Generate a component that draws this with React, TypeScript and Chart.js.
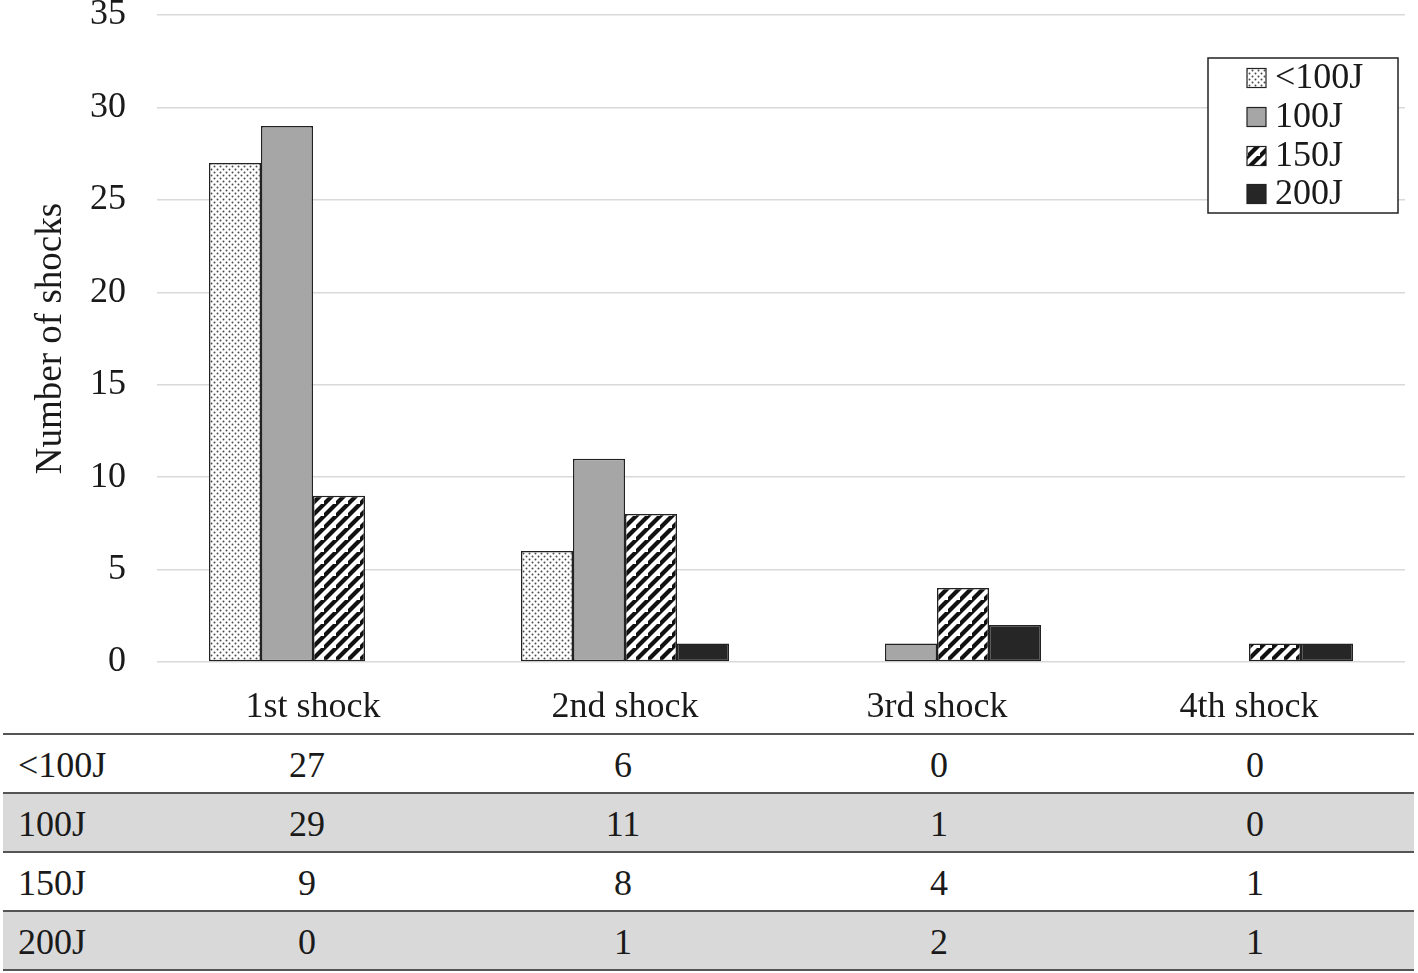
import React, { useEffect, useRef } from "react";
import { Chart, registerables } from "chart.js";

Chart.register(...registerables);

const categories = ["1st shock", "2nd shock", "3rd shock", "4th shock"];
const seriesNames = ["<100J", "100J", "150J", "200J"];
const below100J = [27, 6, 0, 0];
const j100 = [29, 11, 1, 0];
const j150 = [9, 8, 4, 1];
const j200 = [0, 1, 2, 1];
const seriesValues = [below100J, j100, j150, j200];
const yTicks = [0, 5, 10, 15, 20, 25, 30, 35];

const FONT = "'Liberation Serif', 'Times New Roman', serif";
const TEXT = "#1a1a1a";

function makeDotPattern(): CanvasPattern | string {
  const c = document.createElement("canvas");
  c.width = 6;
  c.height = 6;
  const g = c.getContext("2d");
  if (!g) return "#ddd";
  g.fillStyle = "#ffffff";
  g.fillRect(0, 0, 6, 6);
  g.fillStyle = "#4a4a4a";
  g.beginPath();
  g.arc(1.5, 1.5, 1.0, 0, Math.PI * 2);
  g.fill();
  g.beginPath();
  g.arc(4.5, 4.5, 1.0, 0, Math.PI * 2);
  g.fill();
  const p = g.createPattern(c, "repeat");
  return p || "#ddd";
}

function makeHatchPattern(): CanvasPattern | string {
  const s = 12;
  const c = document.createElement("canvas");
  c.width = s;
  c.height = s;
  const g = c.getContext("2d");
  if (!g) return "#888";
  g.fillStyle = "#ffffff";
  g.fillRect(0, 0, s, s);
  g.strokeStyle = "#111111";
  g.lineWidth = 4.2;
  g.lineCap = "square";
  const seg = (x1: number, y1: number, x2: number, y2: number) => {
    g.beginPath();
    g.moveTo(x1, y1);
    g.lineTo(x2, y2);
    g.stroke();
  };
  seg(-2, s + 2, s + 2, -2);
  seg(-s - 2, s + 2, 2, -2);
  seg(s - 2, 2 * s + 2, 2 * s + 2, s - 2);
  const p = g.createPattern(c, "repeat");
  return p || "#888";
}

const legendPlugin = {
  id: "boxLegend",
  afterDraw(chart: any) {
    const ctx = chart.ctx as CanvasRenderingContext2D;
    const x0 = 1208, y0 = 58, w = 190, h = 155;
    ctx.save();
    ctx.fillStyle = "#ffffff";
    ctx.fillRect(x0, y0, w, h);
    ctx.strokeStyle = "#222222";
    ctx.lineWidth = 1.5;
    ctx.strokeRect(x0, y0, w, h);
    const rows = [78, 117, 156, 194];
    chart.data.datasets.forEach((ds: any, i: number) => {
      const cy = rows[i];
      ctx.fillStyle = ds.backgroundColor;
      ctx.fillRect(1247, cy - 9.5, 19, 19);
      ctx.strokeStyle = "#222222";
      ctx.lineWidth = 1.2;
      ctx.strokeRect(1247, cy - 9.5, 19, 19);
      ctx.fillStyle = TEXT;
      ctx.font = `36px ${FONT}`;
      ctx.textBaseline = "middle";
      ctx.textAlign = "left";
      ctx.fillText(ds.label, 1275, cy + 1);
    });
    ctx.restore();
  },
};

export default function App() {
  const ref = useRef<HTMLCanvasElement | null>(null);

  useEffect(() => {
    if (!ref.current) return;
    const fills = [makeDotPattern(), "#a6a6a6", makeHatchPattern(), "#262626"];
    const chart = new Chart(ref.current, {
      type: "bar",
      data: {
        labels: categories,
        datasets: seriesNames.map((name, i) => ({
          label: name,
          data: seriesValues[i],
          backgroundColor: fills[i] as any,
          borderColor: "#222222",
          borderWidth: 1.5,
          borderSkipped: false,
          categoryPercentage: 208 / 312,
          barPercentage: 1,
        })),
      },
      options: {
        animation: false,
        responsive: false,
        devicePixelRatio: 1,
        layout: { padding: { top: 15, right: 13, bottom: 0, left: 0 } },
        plugins: {
          legend: { display: false },
          tooltip: { enabled: false },
        },
        scales: {
          x: {
            grid: { display: false },
            border: { display: false },
            ticks: {
              color: TEXT,
              font: { family: FONT, size: 36 },
              padding: 16,
              maxRotation: 0,
            },
            afterFit: (s: any) => {
              s.height = 63;
              s.paddingLeft = 0;
              s.paddingRight = 0;
            },
          },
          y: {
            min: 0,
            max: 35,
            afterBuildTicks: (s: any) => {
              s.ticks = yTicks.map((v) => ({ value: v }));
            },
            grid: { color: "#d9d9d9", lineWidth: 1.5, drawTicks: false },
            border: { display: false },
            ticks: {
              color: TEXT,
              font: { family: FONT, size: 36 },
              padding: 31,
            },
            title: {
              display: true,
              text: "Number of shocks",
              color: TEXT,
              font: { family: FONT, size: 37 },
              padding: { top: 29, bottom: 0 },
            },
            afterFit: (s: any) => {
              s.width = 157;
              s.paddingTop = 0;
              s.paddingBottom = 0;
            },
          },
        },
      },
      plugins: [legendPlugin],
    });
    return () => chart.destroy();
  }, []);

  const rowBg = ["#ffffff", "#d9d9d9", "#ffffff", "#d9d9d9"];

  return (
    <div
      style={{
        position: "absolute",
        left: 0,
        top: 0,
        width: 1418,
        height: 973,
        background: "#ffffff",
        overflow: "hidden",
      }}
    >
      <canvas ref={ref} width={1418} height={725} style={{ position: "absolute", left: 0, top: 0 }} />
      <div style={{ position: "absolute", left: 3, top: 733, width: 1411 }}>
        {seriesNames.map((name, r) => (
          <div
            key={name}
            style={{
              display: "flex",
              alignItems: "center",
              height: 57,
              borderTop: "2px solid #555555",
              borderBottom: r === seriesNames.length - 1 ? "2px solid #555555" : "none",
              background: rowBg[r],
              fontFamily: FONT,
              fontSize: 36,
              color: TEXT,
              lineHeight: "57px",
            }}
          >
            <div style={{ width: 146, paddingLeft: 15, paddingTop: 3, boxSizing: "border-box", whiteSpace: "nowrap" }}>{name}</div>
            {seriesValues[r].map((v, c) => (
              <div key={c} style={{ width: 316, textAlign: "center", paddingTop: 3, boxSizing: "border-box" }}>
                {v}
              </div>
            ))}
          </div>
        ))}
      </div>
    </div>
  );
}
